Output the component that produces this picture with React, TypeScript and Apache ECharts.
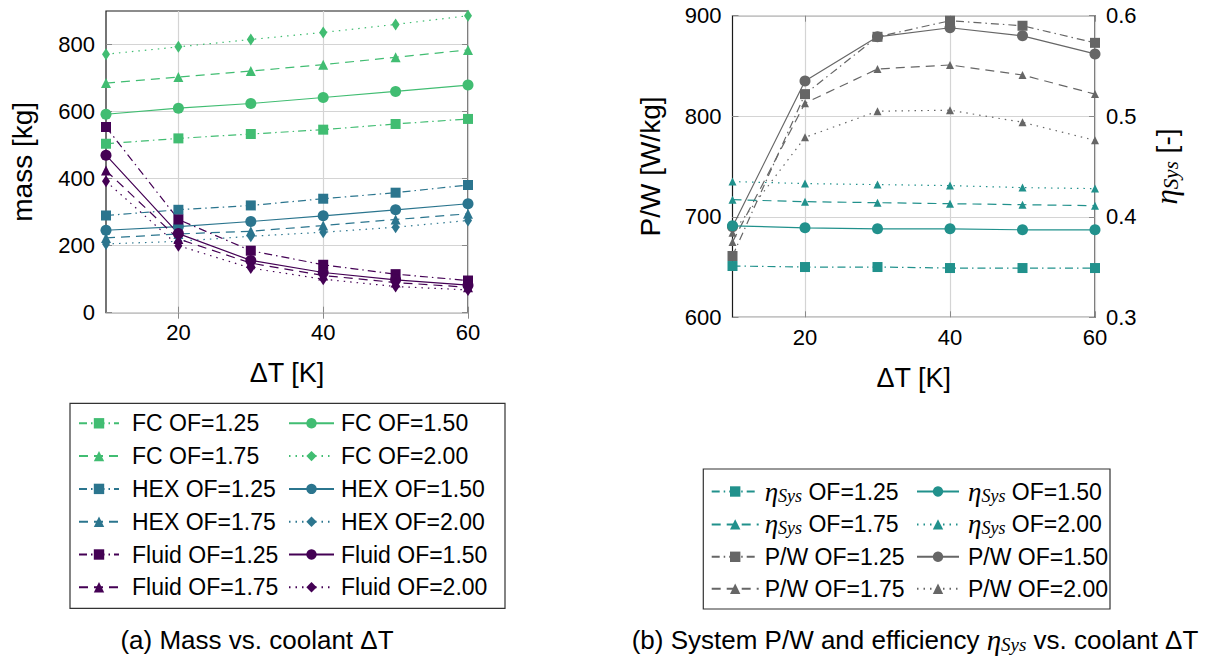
import React, { useEffect, useRef } from "react";
import * as echarts from "echarts";

// Coolant temperature difference ΔT [K]
const dT = [10, 20, 30, 40, 50, 60];

// Component masses [kg] per oversizing factor
const fc125 = [504, 520, 533, 546, 563, 578];
const fc150 = [592, 610, 624, 642, 660, 679];
const fc175 = [685, 703, 721, 740, 762, 784];
const fc200 = [771, 793, 815, 836, 860, 886];
const hex125 = [290, 307, 320, 340, 358, 381];
const hex150 = [246, 257, 272, 289, 307, 325];
const hex175 = [223, 235, 243, 260, 278, 295];
const hex200 = [205, 213, 228, 240, 255, 275];
const fluid125 = [554, 278, 185, 143, 115, 96];
const fluid150 = [470, 236, 156, 120, 98, 82];
const fluid175 = [424, 220, 148, 111, 90, 76];
const fluid200 = [392, 200, 133, 100, 78, 68];

// System power-to-weight [W/kg] and efficiency [-]
const pw125 = [661, 822, 879, 895, 890, 873];
const pw150 = [690, 835, 879, 888, 880, 862];
const pw175 = [675, 813, 847, 851, 841, 822];
const pw200 = [684, 779, 805, 806, 794, 776];
const eta125 = [0.351, 0.35, 0.35, 0.349, 0.349, 0.349];
const eta150 = [0.391, 0.389, 0.388, 0.388, 0.387, 0.387];
const eta175 = [0.417, 0.415, 0.414, 0.413, 0.412, 0.411];
const eta200 = [0.435, 0.433, 0.432, 0.431, 0.429, 0.428];

// Tick values
const xTicks = [20, 40, 60];
const massTicks = [0, 200, 400, 600, 800];
const etaTicks = [0.3, 0.4, 0.5, 0.6];

const SANS = "'Liberation Sans', Arial, Helvetica, sans-serif";
const SERIF = "'Liberation Serif', 'Times New Roman', serif";

const C_FC = "#41bd72";
const C_HEX = "#2b758e";
const C_FLUID = "#440154";
const C_ETA = "#21918c";
const C_PW = "#666666";

const DASHDOT = [8, 4, 1.5, 4];
const DASHED = [9, 6];
const DOTTED = [1.5, 5];

const GRID_LINE = "#d4d4d4";
const TICK_LINE = "#8a8a8a";

function line(
  name: string,
  values: number[],
  color: string,
  dash: any,
  symbol: string,
  size: any,
  axis: number
) {
  return {
    type: "line",
    name,
    xAxisIndex: axis === 0 ? 0 : 2,
    yAxisIndex: axis,
    data: dT.map((x, i) => [x, values[i]]),
    symbol,
    symbolSize: size,
    showSymbol: true,
    lineStyle: { color, width: 1.2, type: dash },
    itemStyle: { color },
    emphasis: { disabled: true },
  };
}

const etaRich = {
  e: { fontFamily: SERIF, fontStyle: "italic", fontSize: 27, lineHeight: 26 },
  s: {
    fontFamily: SERIF,
    fontStyle: "italic",
    fontSize: 18,
    lineHeight: 8,
    verticalAlign: "bottom",
  },
};

function legendLabel(name: string) {
  if (name.startsWith("η")) return "{e|η}{s|Sys}" + name.slice(5);
  return name;
}

function legend(
  data: string[],
  left: number,
  top: number,
  itemWidth: number,
  gap: number,
  padLeft: number
) {
  return {
    data,
    orient: "vertical",
    left,
    top,
    itemWidth,
    itemHeight: 13,
    itemGap: gap,
    padding: 0,
    selectedMode: false,
    formatter: legendLabel,
    textStyle: {
      fontFamily: SANS,
      fontSize: 23,
      color: "#000",
      lineHeight: 26,
      padding: [0, 0, 0, padLeft],
      rich: {
        e: { ...etaRich.e, fontSize: 27 },
        s: { ...etaRich.s, fontSize: 18 },
      },
    },
  };
}

function tickOnlyX(gridIndex: number) {
  return {
    gridIndex,
    type: "value",
    position: "top",
    min: 10,
    max: 60,
    axisLine: { show: false },
    axisLabel: { show: false },
    splitLine: { show: false },
    axisTick: {
      show: true,
      inside: true,
      length: 6,
      customValues: xTicks,
      lineStyle: { color: TICK_LINE },
    },
  };
}

export default function App() {
  const ref = useRef<HTMLDivElement>(null);

  useEffect(() => {
    document.body.style.margin = "0";
    if (!ref.current) return;
    const chart = echarts.init(ref.current, undefined, { renderer: "svg" });

    const xBottom = (gridIndex: number) => ({
      gridIndex,
      type: "value",
      min: 10,
      max: 60,
      axisLine: { show: false },
      axisTick: {
        show: true,
        inside: true,
        length: 6,
        customValues: xTicks,
        lineStyle: { color: TICK_LINE },
      },
      axisLabel: {
        customValues: xTicks,
        fontSize: 22,
        color: "#000",
        fontFamily: SANS,
        margin: 9,
      },
      splitLine: { show: true, lineStyle: { color: GRID_LINE, width: 1.2 } },
      name: "ΔT [K]",
      nameLocation: "middle",
      nameGap: 47,
      nameTextStyle: { fontSize: 27, color: "#000", fontFamily: SANS },
    });

    const option: any = {
      animation: false,
      textStyle: { fontFamily: SANS },
      grid: [
        {
          left: 106,
          top: 11,
          width: 362,
          height: 301.7,
          show: true,
          borderColor: "#1a1a1a",
          borderWidth: 1.2,
        },
        {
          left: 732.5,
          top: 15.7,
          width: 362.5,
          height: 301.6,
          show: true,
          borderColor: "#1a1a1a",
          borderWidth: 1.2,
        },
      ],
      xAxis: [xBottom(0), tickOnlyX(0), xBottom(1), tickOnlyX(1)],
      yAxis: [
        {
          gridIndex: 0,
          type: "value",
          min: 0,
          max: 900,
          axisLine: { show: false },
          axisTick: {
            show: true,
            inside: true,
            length: 6,
            customValues: massTicks,
            lineStyle: { color: TICK_LINE },
          },
          axisLabel: {
            customValues: massTicks,
            fontSize: 22,
            color: "#000",
            fontFamily: SANS,
            margin: 11,
          },
          splitLine: { show: true, lineStyle: { color: GRID_LINE, width: 1.2 } },
          name: "mass [kg]",
          nameLocation: "middle",
          nameRotate: 90,
          nameGap: 70,
          nameTextStyle: { fontSize: 28, color: "#000", fontFamily: SANS },
        },
        {
          gridIndex: 0,
          type: "value",
          position: "right",
          min: 0,
          max: 900,
          axisLine: { show: false },
          axisLabel: { show: false },
          splitLine: { show: false },
          axisTick: {
            show: true,
            inside: true,
            length: 6,
            customValues: massTicks,
            lineStyle: { color: TICK_LINE },
          },
        },
        {
          gridIndex: 1,
          type: "value",
          min: 600,
          max: 900,
          interval: 100,
          axisLine: { show: false },
          axisTick: {
            show: true,
            inside: true,
            length: 6,
            lineStyle: { color: TICK_LINE },
          },
          axisLabel: {
            fontSize: 22,
            color: "#000",
            fontFamily: SANS,
            margin: 11,
          },
          splitLine: { show: true, lineStyle: { color: GRID_LINE, width: 1.2 } },
          name: "P/W [W/kg]",
          nameLocation: "middle",
          nameRotate: 90,
          nameGap: 68,
          nameTextStyle: { fontSize: 28, color: "#000", fontFamily: SANS },
        },
        {
          gridIndex: 1,
          type: "value",
          position: "right",
          min: 0.3,
          max: 0.6,
          axisLine: { show: false },
          axisTick: {
            show: true,
            inside: true,
            length: 6,
            customValues: etaTicks,
            lineStyle: { color: TICK_LINE },
          },
          axisLabel: {
            customValues: etaTicks,
            formatter: (v: number) => v.toFixed(1),
            fontSize: 22,
            color: "#000",
            fontFamily: SANS,
            margin: 11,
          },
          splitLine: { show: false },
          name: "{e|η}{s|Sys} [-]",
          nameLocation: "middle",
          nameRotate: 90,
          nameGap: 56,
          nameTextStyle: {
            fontSize: 28,
            color: "#000",
            fontFamily: SANS,
            lineHeight: 30,
            rich: {
              e: { ...etaRich.e, fontSize: 31, lineHeight: 30 },
              s: { ...etaRich.s, fontSize: 21, lineHeight: 10 },
            },
          },
        },
      ],
      legend: [
        legend(
          ["FC OF=1.25", "FC OF=1.75", "HEX OF=1.25", "HEX OF=1.75", "Fluid OF=1.25", "Fluid OF=1.75"],
          78,
          410.3,
          40,
          6.8,
          8
        ),
        legend(
          ["FC OF=1.50", "FC OF=2.00", "HEX OF=1.50", "HEX OF=2.00", "Fluid OF=1.50", "Fluid OF=2.00"],
          288,
          410.3,
          45,
          6.8,
          2
        ),
        legend(
          ["η_Sys OF=1.25", "η_Sys OF=1.75", "P/W OF=1.25", "P/W OF=1.75"],
          710.7,
          478,
          47,
          5.9,
          1
        ),
        legend(
          ["η_Sys OF=1.50", "η_Sys OF=2.00", "P/W OF=1.50", "P/W OF=2.00"],
          916,
          478,
          42,
          5.9,
          4
        ),
      ],
      series: [
        line("FC OF=1.25", fc125, C_FC, DASHDOT, "rect", 10, 0),
        line("FC OF=1.50", fc150, C_FC, "solid", "circle", 11, 0),
        line("FC OF=1.75", fc175, C_FC, DASHED, "triangle", 10, 0),
        line("FC OF=2.00", fc200, C_FC, DOTTED, "diamond", [8, 12], 0),
        line("HEX OF=1.25", hex125, C_HEX, DASHDOT, "rect", 10, 0),
        line("HEX OF=1.50", hex150, C_HEX, "solid", "circle", 11, 0),
        line("HEX OF=1.75", hex175, C_HEX, DASHED, "triangle", 10, 0),
        line("HEX OF=2.00", hex200, C_HEX, DOTTED, "diamond", [8, 12], 0),
        line("Fluid OF=1.25", fluid125, C_FLUID, DASHDOT, "rect", 10, 0),
        line("Fluid OF=1.50", fluid150, C_FLUID, "solid", "circle", 11, 0),
        line("Fluid OF=1.75", fluid175, C_FLUID, DASHED, "triangle", 10, 0),
        line("Fluid OF=2.00", fluid200, C_FLUID, DOTTED, "diamond", [8, 12], 0),
        line("P/W OF=1.25", pw125, C_PW, DASHDOT, "rect", 10, 2),
        line("P/W OF=1.50", pw150, C_PW, "solid", "circle", 11, 2),
        line("P/W OF=1.75", pw175, C_PW, DASHED, "triangle", 8, 2),
        line("P/W OF=2.00", pw200, C_PW, DOTTED, "triangle", 8, 2),
        line("η_Sys OF=1.25", eta125, C_ETA, DASHDOT, "rect", 10, 3),
        line("η_Sys OF=1.50", eta150, C_ETA, "solid", "circle", 11, 3),
        line("η_Sys OF=1.75", eta175, C_ETA, DASHED, "triangle", 8, 3),
        line("η_Sys OF=2.00", eta200, C_ETA, DOTTED, "triangle", 8, 3),
      ],
      graphic: [
        {
          type: "rect",
          shape: { x: 70, y: 403.3, width: 435, height: 205 },
          style: { fill: "none", stroke: "#333", lineWidth: 1.2 },
          silent: true,
        },
        {
          type: "rect",
          shape: { x: 703.3, y: 469, width: 406.7, height: 140 },
          style: { fill: "none", stroke: "#333", lineWidth: 1.2 },
          silent: true,
        },
        {
          type: "text",
          x: 257,
          y: 640,
          style: {
            text: "(a) Mass vs. coolant ΔT",
            font: `26px ${SANS}`,
            fill: "#000",
            align: "center",
            verticalAlign: "middle",
          },
          silent: true,
        },
        {
          type: "text",
          x: 915,
          y: 640,
          style: {
            text: "(b) System P/W and efficiency {e|η}{s|Sys} vs. coolant ΔT",
            font: `26px ${SANS}`,
            fill: "#000",
            align: "center",
            verticalAlign: "middle",
            lineHeight: 28,
            rich: {
              e: { ...etaRich.e, fontSize: 29, lineHeight: 28, fill: "#000" },
              s: { ...etaRich.s, fontSize: 19, lineHeight: 8, fill: "#000" },
            },
          },
          silent: true,
        },
      ],
    };

    chart.setOption(option);
    return () => chart.dispose();
  }, []);

  return (
    <div
      ref={ref}
      style={{ position: "absolute", left: 0, top: 0, width: 1208, height: 656, background: "#fff" }}
    />
  );
}
